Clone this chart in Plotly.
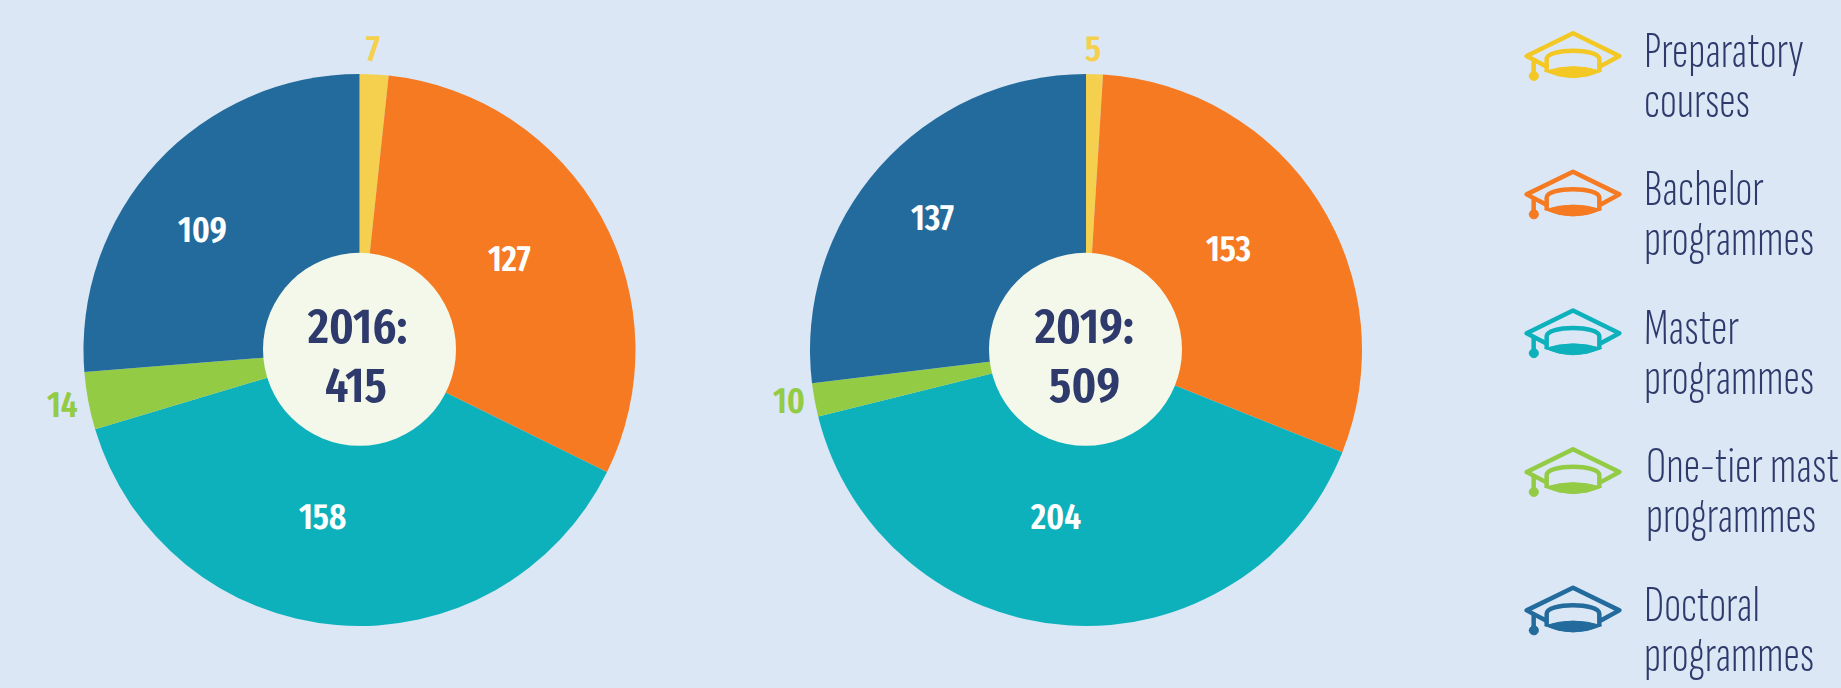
import plotly.graph_objects as go

W, H = 1841, 688
categories = ["Preparatory courses", "Bachelor programmes", "Master programmes", "One-tier master programmes", "Doctoral programmes"]
values_2016 = [7, 127, 158, 14, 109]
values_2019 = [5, 153, 204, 10, 137]
slice_colors = ["#F5D04E", "#F57A21", "#0DB1BC", "#94CB45", "#226B9C"]
icon_colors = ["#F4C824", "#F57A21", "#0DB1BC", "#94CB45", "#226B9C"]
legend_lines = [["Preparatory", "courses"], ["Bachelor", "programmes"], ["Master", "programmes"], ["One-tier master", "programmes"], ["Doctoral", "programmes"]]
centre_2016 = ["2016:", "415"]
centre_2019 = ["2019:", "509"]

BG = "#DBE7F5"; HOLE = "#F4F8EA"; INK = "#2F3A6C"
FONT = "Fira Sans Extra Condensed, Liberation Sans, Noto Sans"
LFONT = "Sofia Sans Extra Condensed, Fira Sans Extra Condensed, Liberation Sans, Noto Sans"
R, HOLE_R = 276, 96.5
CY = 350
C1, C2 = 359.5, 1086

px = lambda x: x / W
py = lambda y: 1 - y / H

def dom(cx):
    return dict(x=[px(cx - R), px(cx + R)], y=[py(CY + R), py(CY - R)])

fig = go.Figure()
for vals, cx in ((values_2016, C1), (values_2019, C2)):
    fig.add_trace(go.Pie(labels=categories, values=vals, sort=False, direction="clockwise", rotation=0,
                         marker=dict(colors=slice_colors, line=dict(width=0)), textinfo="none",
                         domain=dom(cx), showlegend=False))

shapes, ann = [], []
for cx in (C1, C2 - 0.5):
    shapes.append(dict(type="circle", xref="paper", yref="paper", layer="above",
                       x0=px(cx - HOLE_R), x1=px(cx + HOLE_R), y0=py(349.3 + HOLE_R), y1=py(349.3 - HOLE_R),
                       fillcolor=HOLE, line=dict(width=0)))

def text(x, y, s, size, color, weight=300, anchor="center", family=FONT):
    ann.append(dict(x=px(x), y=py(y), xref="paper", yref="paper", text=s, showarrow=False,
                    xanchor=anchor, yanchor="middle", font=dict(family=family, size=size, color=color, weight=weight), align=anchor))

label_pos_2016 = [(373, 49), (509, 259), (322, 517), (62, 405), (202, 230)]
label_pos_2019 = [(1093, 49), (1228, 249), (1055, 517), (789, 401), (932, 218)]
for vals, pos in ((values_2016, label_pos_2016), (values_2019, label_pos_2019)):
    for i, (v, (x, y)) in enumerate(zip(vals, pos)):
        outer = i in (0, 3)
        text(x, y, str(v), 36, slice_colors[i] if outer else "white", weight=600)

text(357, 326, centre_2016[0], 50, INK, 600); text(356, 385, centre_2016[1], 50, INK, 600)
text(1084, 326, centre_2019[0], 50, INK, 600); text(1084, 385, centre_2019[1], 50, INK, 600)

def fmt(cmds, ox, oy):
    out = []
    for c, pts in cmds:
        out.append(c + " ".join(f"{px(ox + (a - 219) / 3):.5f},{py(oy + (b - 97) / 3):.5f}" for a, b in pts))
    return " ".join(out)

roof = [("M", [(135, 197)]), ("L", [(80, 168)]), ("L", [(219, 100)]), ("L", [(358, 168)]), ("L", [(305, 197)])]
band = [("M", [(140, 210)]), ("L", [(140, 178)]), ("C", [(140, 144), (298, 144), (298, 178)]), ("L", [(298, 210)])]
lens = [("M", [(135, 214)]), ("Q", [(219, 186), (305, 214)]), ("Q", [(219, 252), (135, 214)]), ("Z", [])]
tassel = [("M", [(101, 182)]), ("L", [(101, 215)])]
dot = [("M", [(88, 228)]), ("C", [(88, 210), (115, 210), (115, 228)]), ("C", [(115, 246), (88, 246), (88, 228)]), ("Z", [])]
ICON_X = 1573
ICON_Y = [32.3, 170.7, 309.5, 448.3, 586.7]
TEXT_X = [1642, 1642, 1642, 1644, 1642]
BASE_1 = [66, 204.3, 343, 481.7, 620.7]
LSIZE = 51
for i, (c, oy) in enumerate(zip(icon_colors, ICON_Y)):
    for part in (roof, band, tassel):
        shapes.append(dict(type="path", xref="paper", yref="paper", path=fmt(part, ICON_X, oy),
                           line=dict(color=c, width=4.5), fillcolor="rgba(0,0,0,0)"))
    for part in (lens, dot):
        shapes.append(dict(type="path", xref="paper", yref="paper", path=fmt(part, ICON_X, oy),
                           line=dict(color=c, width=1), fillcolor=c))
    text(TEXT_X[i], BASE_1[i] - 15, legend_lines[i][0], LSIZE, INK, 300, "left", LFONT)
    text(TEXT_X[i], BASE_1[i] + 35, legend_lines[i][1], LSIZE, INK, 300, "left", LFONT)

fig.update_layout(width=W, height=H, margin=dict(l=0, r=0, t=0, b=0), paper_bgcolor=BG, plot_bgcolor=BG,
                  showlegend=False, shapes=shapes, annotations=ann)
fig.write_html("out.html", config=dict(displayModeBar=False),
               post_script="document.body.style.margin='0';document.body.style.background='#DBE7F5';"
                           "document.querySelectorAll('.shapelayer path').forEach(function(p){p.style.strokeLinejoin='round';p.style.strokeLinecap='round';});")
